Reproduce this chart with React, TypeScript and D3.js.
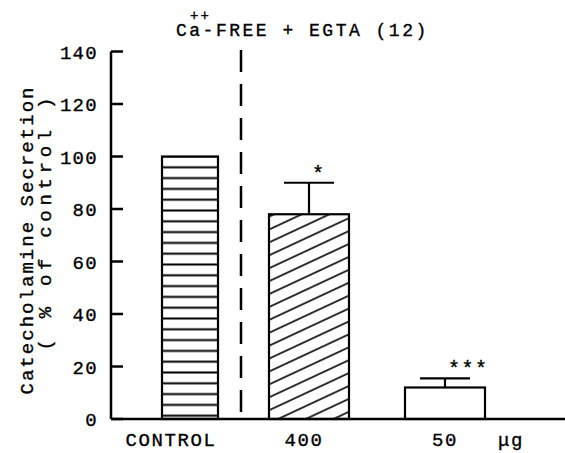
import * as d3 from 'd3';
import React from 'react';

// values
const categories = ['CONTROL', '400', '50'];
const means = [100, 78, 12];
const upperErr = [0, 12, 3.5];
const stars = ['', '*', '***'];
const yTicks = [0, 20, 40, 60, 80, 100, 120, 140];
const titleParts = ['Ca', '++', '-FREE + EGTA (12)'];
const unitText = 'μg';
const yLabelLines = ['Catecholamine Secretion', '( % of control )'];

const W = 565;
const H = 453;
const FONT = '"Liberation Mono", "DejaVu Sans Mono", monospace';

export default function App() {
  const y = d3.scaleLinear().domain([0, 140]).range([419, 51.5]);
  const axisX = 111;

  // bar centres, widths and label anchors (the figure is not evenly spaced)
  const xCenter = d3.scaleOrdinal<string, number>().domain(categories).range([190, 309, 445]);
  const barWidth = d3.scaleOrdinal<string, number>().domain(categories).range([56, 80, 80]);
  const labelX = d3.scaleOrdinal<string, number>().domain(categories).range([171, 304, 445]);
  const fills = d3.scaleOrdinal<string, string>().domain(categories)
    .range(['url(#hlines)', 'url(#diag)', '#fff']);

  const sepX = 241;
  const capW = 50;
  const ink = { fill: '#000', stroke: '#000', strokeWidth: 0.35 };

  return (
    <svg width={W} height={H} style={{ position: 'absolute', left: 0, top: 0, background: '#fff' }}
      fontFamily={FONT}>
      <defs>
        <pattern id="hlines" patternUnits="userSpaceOnUse" width={10} height={10.8}
          y={y(100) + 5.4}>
          <rect width={10} height={10.8} fill="#fff" />
          <line x1={0} x2={10} y1={5.4} y2={5.4} stroke="#000" strokeWidth={2} />
        </pattern>
        <pattern id="diag" patternUnits="userSpaceOnUse" width={20} height={11.7}
          patternTransform="rotate(-25)">
          <rect width={20} height={11.7} fill="#fff" />
          <line x1={0} x2={20} y1={5.85} y2={5.85} stroke="#000" strokeWidth={1.6} />
        </pattern>
      </defs>

      {/* title, with the ++ set above "a-" */}
      <text x={176} y={36} fontSize={18} letterSpacing={2.5} {...ink}>
        {titleParts[0]}
        <tspan dx={-12.6} dy={-16} fontSize={14} letterSpacing={2}>{titleParts[1]}</tspan>
        <tspan dx={-8.2} dy={16} letterSpacing={2.5}>{titleParts[2]}</tspan>
      </text>

      {/* y axis label */}
      <text transform="translate(33,241) rotate(-90)" textAnchor="middle" fontSize={19}
        textLength={307} lengthAdjust="spacing" {...ink}>{yLabelLines[0]}</text>
      <text transform="translate(51,224) rotate(-90)" textAnchor="middle" fontSize={19}
        textLength={253} lengthAdjust="spacing" {...ink}>{yLabelLines[1]}</text>

      {/* y axis */}
      <line x1={axisX} x2={axisX} y1={y(140)} y2={y(0)} stroke="#000" strokeWidth={2.5} />
      {yTicks.map(t => (
        <g key={t}>
          <line x1={axisX} x2={axisX + 12} y1={y(t)} y2={y(t)} stroke="#000" strokeWidth={2.5} />
          <text x={98} y={y(t)} dy="0.38em" textAnchor="end" fontSize={19} letterSpacing={1.3}
            {...ink}>{t}</text>
        </g>
      ))}

      {/* separator */}
      <line x1={sepX} x2={sepX} y1={50} y2={y(0)} stroke="#000" strokeWidth={2.5}
        strokeDasharray="22 12" />

      {/* bars */}
      {categories.map((c, i) => {
        const cx = xCenter(c);
        const bw = barWidth(c);
        const top = y(means[i]);
        const errTop = y(means[i] + upperErr[i]);
        return (
          <g key={c}>
            <rect x={cx - bw / 2} y={top} width={bw} height={y(0) - top}
              fill={fills(c)} stroke="#000" strokeWidth={2.2} />
            {upperErr[i] > 0 && (
              <g stroke="#000" strokeWidth={2.2}>
                <line x1={cx} x2={cx} y1={top} y2={errTop} />
                <line x1={cx - capW / 2} x2={cx + capW / 2} y1={errTop} y2={errTop} />
              </g>
            )}
            {stars[i] && (
              <text x={cx + 3} y={errTop - 3} fontSize={20} letterSpacing={1.5} {...ink}>{stars[i]}</text>
            )}
            <text x={labelX(c)} y={446} textAnchor="middle" fontSize={19}
              letterSpacing={1.6} {...ink}>{c}</text>
          </g>
        );
      })}
      <text x={511} y={446} textAnchor="middle" fontSize={19} letterSpacing={1.6} {...ink}>{unitText}</text>

      {/* baseline */}
      <line x1={axisX} x2={W} y1={y(0)} y2={y(0)} stroke="#000" strokeWidth={2.5} />
    </svg>
  );
}
